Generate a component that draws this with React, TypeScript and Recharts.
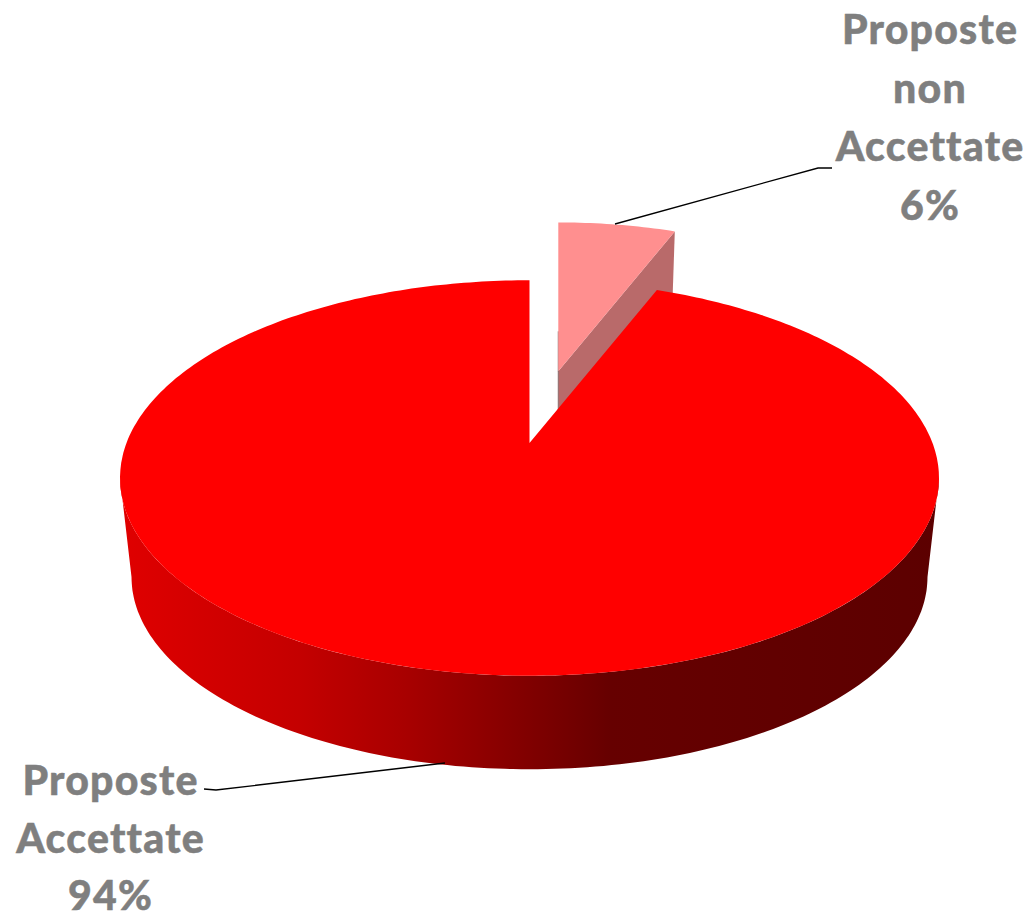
import { PieChart, Pie } from "recharts";

const categories = ["Proposte non Accettate", "Proposte Accettate"];
const shares = [6, 94];
const categoryLines = [
  ["Proposte", "non", "Accettate"],
  ["Proposte", "Accettate"],
];
const explodes = [0.408, 0];
const sliceScales = [0.915, 1];
const topColors = ["#ff8f8f", "#ff0000"];

const data = categories.map((name, i) => ({ name, value: shares[i] }));

const WIDTH = 1030;
const HEIGHT = 915;
const CX = 529.5;
const CY = 443;
const RADIUS = 403;
const TILT = 0.4753;
const PERSPECTIVE = 0.177;
const DEPTH = 100;
const BOTTOM_SCALE = 0.972;
const LABEL_COLOR = "#7f7f7f";
const FONT_SIZE = 41;

const labelLayouts = [
  { x: 930, y: 44, step: 58.7, leader: "M615,224 L818,168 L832,168" },
  { x: 110.5, y: 795, step: 57.7, leader: "M445,763 L216,790 L204,789" },
];

const rad = (deg: number) => (deg * Math.PI) / 180;

// Circle on the pie's plane seen through a simple perspective divide
function projectCircle(angle: number, r: number, radius: number, bottom: boolean) {
  const u = r * Math.cos(rad(angle));
  const v = -r * Math.sin(rad(angle));
  const w = 1 - PERSPECTIVE * v;
  const x = (radius * u) / w;
  const y = (radius * TILT * v) / w;
  return bottom ? { x: x * BOTTOM_SCALE, y: y * BOTTOM_SCALE + DEPTH } : { x, y };
}

const toPath = (pts: { x: number; y: number }[]) =>
  pts.map((p, i) => `${i ? "L" : "M"}${p.x.toFixed(1)},${p.y.toFixed(1)}`).join(" ") + " Z";

function Slice3D(props: any) {
  const { cx, cy, outerRadius, startAngle, endAngle, index } = props;
  const explode = explodes[index];
  const scale = sliceScales[index];
  const mid = (startAngle + endAngle) / 2;
  const origin = explode ? projectCircle(mid, explode, outerRadius, false) : { x: 0, y: 0 };

  const at = (angle: number, r: number, bottom = false) => {
    const p = projectCircle(angle, r, outerRadius, bottom);
    return { x: cx + origin.x + scale * p.x, y: cy + origin.y + scale * p.y };
  };

  const lo = Math.min(startAngle, endAngle);
  const hi = Math.max(startAngle, endAngle);
  const arc = (from: number, to: number, bottom = false) => {
    const steps = Math.max(2, Math.ceil(Math.abs(to - from)));
    return Array.from({ length: steps + 1 }, (_, i) =>
      at(from + ((to - from) * i) / steps, 1, bottom),
    );
  };

  const top = [at(hi, 0), ...arc(hi, lo)];

  // outer wall only shows on the front half, between the two silhouette points
  const edge = (Math.asin(PERSPECTIVE) * 180) / Math.PI;
  const frontFrom = -180 + edge;
  const frontTo = -edge;
  const hasWall = lo <= frontFrom && hi >= frontTo;
  const wall = hasWall ? [...arc(frontFrom, frontTo), ...arc(frontTo, frontFrom, true)] : null;

  return (
    <g>
      <defs>
        <linearGradient id="wallShade" gradientUnits="userSpaceOnUse" x1="119" y1="0" x2="938" y2="0">
          <stop offset="0" stopColor="#e00000" />
          <stop offset="0.22" stopColor="#c40000" />
          <stop offset="0.35" stopColor="#a80000" />
          <stop offset="0.47" stopColor="#880000" />
          <stop offset="0.6" stopColor="#660000" />
          <stop offset="1" stopColor="#5c0000" />
        </linearGradient>
      </defs>
      {explode > 0 && (
        <>
          <path
            d={toPath([at(lo, 0), at(lo, 1), at(lo, 1, true), at(lo, 0, true)])}
            fill="#b96a6a"
          />
          <line
            x1={at(hi, 0).x}
            y1={at(hi, 0).y - 40}
            x2={at(hi, 0, true).x}
            y2={at(hi, 0, true).y}
            stroke="#8a6a6a"
            strokeWidth={1}
          />
        </>
      )}
      {wall && <path d={toPath(wall)} fill="url(#wallShade)" />}
      <path d={toPath(top)} fill={topColors[index]} />
    </g>
  );
}

function SliceLabel(props: any) {
  const { index, value } = props;
  const { x, y, step, leader } = labelLayouts[index];
  const lines = [...categoryLines[index], `${value}%`];
  return (
    <g>
      <path d={leader} fill="none" stroke="#000000" strokeWidth={1.3} />
      <text
        x={x}
        y={y}
        textAnchor="middle"
        fill={LABEL_COLOR}
        stroke={LABEL_COLOR}
        strokeWidth={0.5}
        letterSpacing={1.2}
        fontFamily="Lato"
        fontWeight={900}
        fontSize={FONT_SIZE}
      >
        {lines.map((line, i) => (
          <tspan key={line} x={x} dy={i ? step : 0}>
            {line}
          </tspan>
        ))}
      </text>
    </g>
  );
}

export default function App() {
  return (
    <div style={{ position: "absolute", left: 0, top: 0, width: WIDTH, height: HEIGHT, background: "#ffffff" }}>
      <PieChart width={WIDTH} height={HEIGHT} margin={{ top: 0, right: 0, bottom: 0, left: 0 }}>
        <Pie
          data={data}
          dataKey="value"
          nameKey="name"
          cx={CX}
          cy={CY}
          innerRadius={0}
          outerRadius={RADIUS}
          startAngle={90}
          endAngle={-270}
          paddingAngle={0}
          stroke="none"
          shape={Slice3D}
          label={SliceLabel}
          labelLine={false}
          isAnimationActive={false}
        />
      </PieChart>
    </div>
  );
}
